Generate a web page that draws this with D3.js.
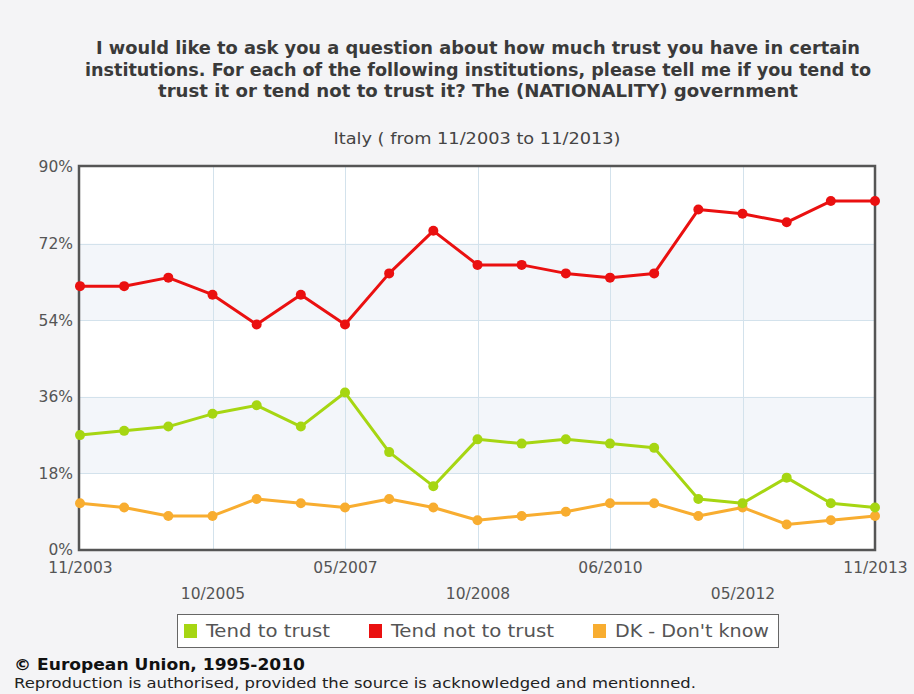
<!DOCTYPE html>
<html>
<head>
<meta charset="utf-8">
<script src="https://cdn.jsdelivr.net/npm/d3@7/dist/d3.min.js"></script>
<style>
  html, body { margin: 0; padding: 0; background: #f4f4f6; }
  svg { display: block; }
</style>
</head>
<body>
<svg id="chart" width="914" height="694"></svg>
<script>
// Survey waves (category axis)
const waves = ["11/2003", "02/2004", "10/2004", "10/2005", "04/2006", "10/2006", "05/2007",
  "10/2007", "04/2008", "10/2008", "06/2009", "11/2009", "06/2010", "11/2010", "11/2011",
  "05/2012", "11/2012", "05/2013", "11/2013"];

// Share of respondents, in percent
const tendToTrust    = [27, 28, 29, 32, 34, 29, 37, 23, 15, 26, 25, 26, 25, 24, 12, 11, 17, 11, 10];
const tendNotToTrust = [62, 62, 64, 60, 53, 60, 53, 65, 75, 67, 67, 65, 64, 65, 80, 79, 77, 82, 82];
const dontKnow       = [11, 10, 8, 8, 12, 11, 10, 12, 10, 7, 8, 9, 11, 11, 8, 10, 6, 7, 8];

const seriesNames = ["Tend to trust", "Tend not to trust", "DK - Don't know"];
const yTicks = [0, 18, 36, 54, 72, 90];
// Waves that carry an axis label (upper row / lower row)
const xLabelsUpper = ["11/2003", "05/2007", "06/2010", "11/2013"];
const xLabelsLower = ["10/2005", "10/2008", "05/2012"];

const titleLines = [
  "I would like to ask you a question about how much trust you have in certain",
  "institutions. For each of the following institutions, please tell me if you tend to",
  "trust it or tend not to trust it? The (NATIONALITY) government"
];
const subtitle = "Italy ( from 11/2003 to 11/2013)";

const colors = ["#a6d612", "#ea1010", "#f8ad30"];
const series = [tendToTrust, tendNotToTrust, dontKnow];

const svg = d3.select("#chart");
const plot = { left: 80, right: 875, top: 167, bottom: 550 };

const x = d3.scalePoint().domain(waves).range([plot.left, plot.right]);
const y = d3.scaleLinear().domain([0, 90]).range([plot.bottom, plot.top]);

// Title
const titleG = svg.append("g")
  .attr("font-family", "'DejaVu Sans', sans-serif")
  .attr("font-stretch", "condensed")
  .attr("font-weight", "bold")
  .attr("font-size", 18)
  .attr("fill", "#3a3a3a")
  .attr("text-anchor", "middle");
const titleWidths = [764, 786, 640];
titleLines.forEach((t, i) => {
  titleG.append("text")
    .attr("x", 478).attr("y", 54 + i * 21.5)
    .attr("textLength", titleWidths[i])
    .attr("lengthAdjust", "spacingAndGlyphs")
    .text(t);
});

svg.append("text")
  .attr("x", 477).attr("y", 144)
  .attr("text-anchor", "middle")
  .attr("font-family", "'DejaVu Sans', sans-serif")
  .attr("font-stretch", "condensed")
  .attr("font-size", 15)
  .attr("fill", "#444")
  .attr("textLength", 287)
  .attr("lengthAdjust", "spacingAndGlyphs")
  .text(subtitle);

// Plot background with alternating bands
svg.append("rect")
  .attr("x", plot.left).attr("y", plot.top)
  .attr("width", plot.right - plot.left).attr("height", plot.bottom - plot.top)
  .attr("fill", "#ffffff");
[[18, 36], [54, 72]].forEach(([a, b]) => {
  svg.append("rect")
    .attr("x", plot.left).attr("y", y(b))
    .attr("width", plot.right - plot.left).attr("height", y(a) - y(b))
    .attr("fill", "#f3f6fa");
});

// Gridlines
const grid = svg.append("g").attr("stroke", "#d3e2ec").attr("stroke-width", 1);
yTicks.slice(1, -1).forEach(v => {
  grid.append("line")
    .attr("x1", plot.left).attr("x2", plot.right)
    .attr("y1", Math.round(y(v)) + 0.5).attr("y2", Math.round(y(v)) + 0.5);
});
xLabelsLower.concat(xLabelsUpper.slice(1, -1)).forEach(w => {
  grid.append("line")
    .attr("x1", Math.round(x(w)) + 0.5).attr("x2", Math.round(x(w)) + 0.5)
    .attr("y1", plot.top).attr("y2", plot.bottom);
});

const axisFont = g => g.selectAll("text")
  .attr("font-family", "'DejaVu Sans', Verdana, sans-serif")
  .attr("font-size", 15.5)
  .attr("fill", "#555");

// Y axis labels
const yAxis = d3.axisLeft(y).tickValues(yTicks).tickFormat(d => d + "%").tickSize(0).tickPadding(7);
svg.append("g")
  .attr("transform", `translate(${plot.left},0)`)
  .call(yAxis)
  .call(g => g.select(".domain").remove())
  .call(axisFont);

// X axis labels, two staggered rows
const xAxisUpper = d3.axisBottom(x).tickValues(xLabelsUpper).tickSize(0).tickPadding(12);
const xAxisLower = d3.axisBottom(x).tickValues(xLabelsLower).tickSize(0).tickPadding(38);
[xAxisUpper, xAxisLower].forEach(ax => {
  svg.append("g")
    .attr("transform", `translate(0,${plot.bottom})`)
    .call(ax)
    .call(g => g.select(".domain").remove())
    .call(axisFont);
});

// Frame
svg.append("rect")
  .attr("x", plot.left - 1).attr("y", plot.top - 1)
  .attr("width", plot.right - plot.left + 1).attr("height", plot.bottom - plot.top + 1)
  .attr("fill", "none")
  .attr("stroke", "#555")
  .attr("stroke-width", 2.5);

// Series lines and markers
const line = d3.line().x((d, i) => x(waves[i])).y(d => y(d));
// draw order: DK first, then trust, then distrust on top
[2, 0, 1].forEach(k => {
  const g = svg.append("g");
  g.append("path")
    .datum(series[k])
    .attr("d", line)
    .attr("fill", "none")
    .attr("stroke", colors[k])
    .attr("stroke-width", 3)
    .attr("stroke-linejoin", "round");
  g.selectAll("circle")
    .data(series[k])
    .join("circle")
    .attr("cx", (d, i) => x(waves[i]))
    .attr("cy", d => y(d))
    .attr("r", 5)
    .attr("fill", colors[k]);
});

// Legend
const legend = svg.append("g");
legend.append("rect")
  .attr("x", 177.5).attr("y", 614.5)
  .attr("width", 601).attr("height", 33)
  .attr("fill", "#fff")
  .attr("stroke", "#666")
  .attr("stroke-width", 1);
const legendX = [184, 369, 593];
const legendW = [124, 163, 154];
seriesNames.forEach((name, i) => {
  legend.append("rect")
    .attr("x", legendX[i]).attr("y", 624)
    .attr("width", 13).attr("height", 14)
    .attr("fill", colors[i]);
  legend.append("text")
    .attr("x", legendX[i] + 22).attr("y", 637)
    .attr("font-family", "'DejaVu Sans', Verdana, sans-serif")
    .attr("font-stretch", "condensed")
    .attr("font-size", 17)
    .attr("fill", "#555")
    .attr("textLength", legendW[i])
    .attr("lengthAdjust", "spacingAndGlyphs")
    .text(name);
});

// Footer
svg.append("text")
  .attr("x", 14).attr("y", 670)
  .attr("font-family", "'DejaVu Sans', Verdana, sans-serif")
  .attr("font-weight", "bold")
  .attr("font-size", 15)
  .attr("fill", "#111")
  .attr("textLength", 291)
  .attr("lengthAdjust", "spacingAndGlyphs")
  .text("© European Union, 1995-2010");
svg.append("text")
  .attr("x", 14).attr("y", 688)
  .attr("font-family", "'DejaVu Sans', Verdana, sans-serif")
  .attr("font-size", 13.5)
  .attr("fill", "#222")
  .attr("textLength", 682)
  .attr("lengthAdjust", "spacingAndGlyphs")
  .text("Reproduction is authorised, provided the source is acknowledged and mentionned.");
</script>
</body>
</html>
